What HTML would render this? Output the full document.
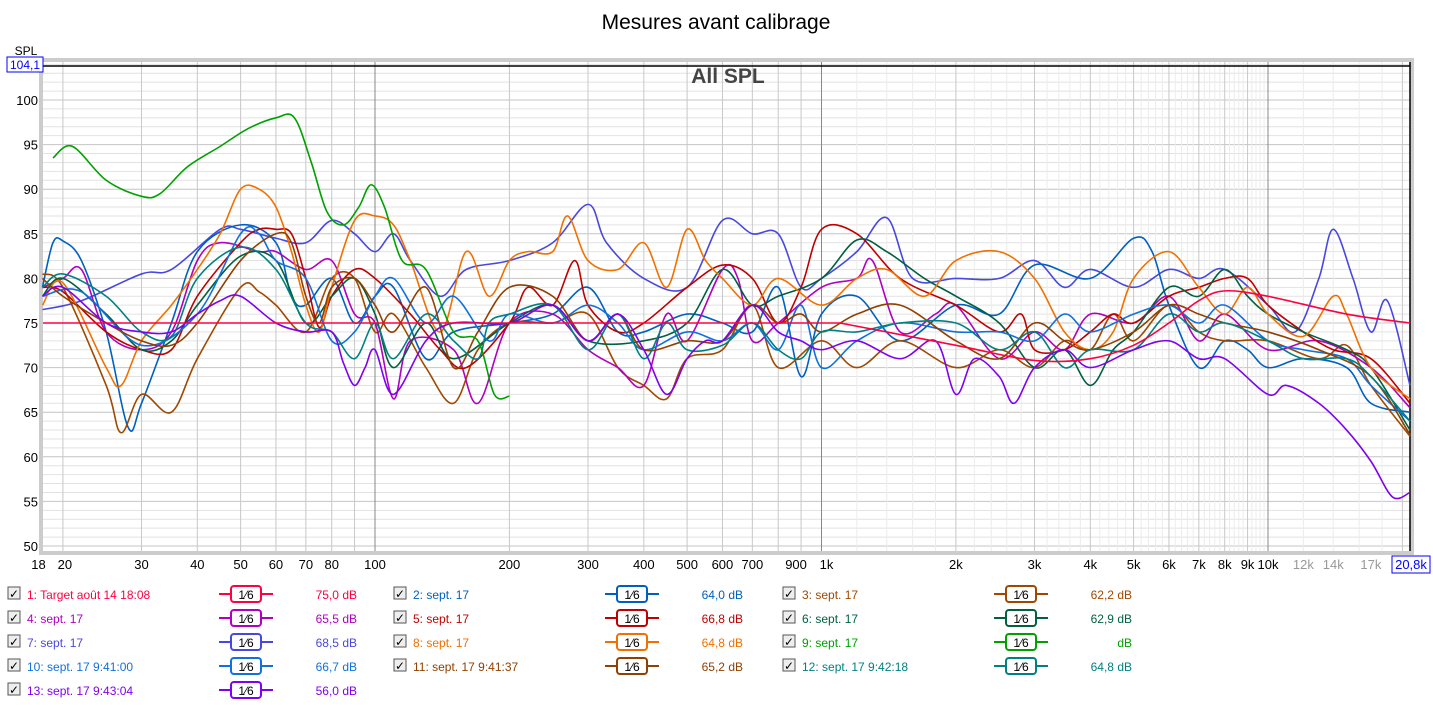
<!DOCTYPE html>
<html><head><meta charset="utf-8"><style>
body{margin:0;width:1433px;height:705px;background:#fff;font-family:"Liberation Sans",sans-serif;overflow:hidden;position:relative}
svg{position:absolute;left:0;top:0}
</style></head><body>
<svg id="s" width="1433" height="705" xmlns="http://www.w3.org/2000/svg" font-family="Liberation Sans, sans-serif"></svg>
<script>
const S=document.getElementById('s');let h='';
const X=f=>375+446.5*Math.log10(f/100), Y=d=>100+(100-d)*8.92;
const L=43,R=1410,T=62,B=551;
h+=`<text x="716" y="29" font-size="21" text-anchor="middle">Mesures avant calibrage</text>`;
h+=`<rect x="${L-4}" y="${T-4}" width="${R-L+8}" height="${B-T+8}" fill="#ccc"/><rect x="${L}" y="${T}" width="${R-L}" height="${B-T}" fill="#fff"/>`;
for(let d=50;d<=104;d++){const y=Y(d);if(y<T||y>B)continue;h+=`<line x1="${L}" x2="${R}" y1="${y}" y2="${y}" stroke="${d%5?'#e2e2e2':'#c4c4c4'}"/>`;}
let fs=[];for(let dec of [10,100,1000,10000])for(let m=1;m<10;m++){const f=dec*m;if(f>=18&&f<=20800)fs.push(f);}
for(let dec of [10,100,1000,10000])for(let m=1;m<10;m+=0.5){}
for(const f of fs){const x=X(f);const maj=[100,1000,10000].includes(f);h+=`<line x1="${x}" x2="${x}" y1="${T}" y2="${B}" stroke="${maj?'#888':'#c8c8c8'}"/>`;}
// minor extra lines
for(let dec of [10,100,1000,10000])for(let m=1;m<10;m++)for(let k=1;k<5;k++){const f=dec*(m+k/5);if(f<18||f>20800)continue;if(dec>=1000&&m>=1)h+=`<line x1="${X(f)}" x2="${X(f)}" y1="${T}" y2="${B}" stroke="#ececec"/>`;}
h+=`<line x1="${L}" x2="${R}" y1="${T+4}" y2="${T+4}" stroke="#000" stroke-width="1.5"/><line x1="${R}" x2="${R}" y1="${T}" y2="${B}" stroke="#000" stroke-width="1.5"/>`;
for(let d=50;d<=100;d+=5)h+=`<text x="38" y="${Y(d)+5}" font-size="13" text-anchor="end">${d}</text>`;
h+=`<text x="26" y="55" font-size="12" text-anchor="middle">SPL</text><rect x="7" y="57" width="36" height="15" fill="#fff" stroke="#00f"/><text x="25" y="69" font-size="12" fill="#00f" text-anchor="middle">104,1</text>`;
const xl=[[18,'18'],[20,'20'],[30,'30'],[40,'40'],[50,'50'],[60,'60'],[70,'70'],[80,'80'],[100,'100'],[200,'200'],[300,'300'],[400,'400'],[500,'500'],[600,'600'],[700,'700'],[900,'900'],[1000,'1k'],[2000,'2k'],[3000,'3k'],[4000,'4k'],[5000,'5k'],[6000,'6k'],[7000,'7k'],[8000,'8k'],[9000,'9k'],[10000,'10k'],[12000,'12k',1],[14000,'14k',1],[17000,'17k',1]];
for(const [f,t,g] of xl){let x=X(f);if(f==18)x-=4;if(f==20)x+=2;if(f==900)x-=5;if(f==1000)x+=5;h+=`<text x="${x}" y="569" font-size="13" text-anchor="middle" fill="${g?'#999':'#000'}">${t}</text>`;}
h+=`<rect x="1392" y="556" width="38" height="17" fill="#fff" stroke="#00f"/><text x="1411" y="569" font-size="13" fill="#00f" text-anchor="middle">20,8k</text>`;
h+=`<text x="728" y="83" font-size="21" font-weight="bold" fill="#444" text-anchor="middle">All SPL</text>`;
function curve(pts,c,w){pts=pts.map(p=>[X(p[0]),Y(p[1])]);let d=`M${pts[0][0]},${pts[0][1]}`;for(let i=0;i<pts.length-1;i++){const p0=pts[Math.max(0,i-1)],p1=pts[i],p2=pts[i+1],p3=pts[Math.min(pts.length-1,i+2)];d+=`C${p1[0]+(p2[0]-p0[0])/6},${p1[1]+(p2[1]-p0[1])/6} ${p2[0]-(p3[0]-p1[0])/6},${p2[1]-(p3[1]-p1[1])/6} ${p2[0]},${p2[1]}`;}h+=`<path d="${d}" fill="none" stroke="${c}" stroke-width="${w||1.6}"/>`;}
const P=s=>s.split(',').map(a=>a.split(':').map(Number));
const ser=[
['#4848e0','18:76.5,22:77.5,30:80.5,35:81,45:85.5,50:85.5,60:84.5,70:84,80:86.5,90:85,100:83,110:85,120:82,140:78,160:81,200:82,250:84,300:88.3,330:84,400:80,500:79,600:86.5,700:85,800:85,900:79,1000:80,1200:83,1400:86.8,1600:80,2000:80,2500:80,3000:82,3500:79,4000:81,5000:79,6000:81,7000:80,8000:81,10000:77,11500:74,13000:80,14000:85.5,15500:80,17000:74,18500:77.5,20800:68'],
['#0060c0','18:79,19:84,20:84.2,22:82,25:74,28:63.3,30:66,35:75,40:83,50:86,60:84,65:78,70:77,80:80,90:75,100:78,110:79,130:71,150:74,200:75,250:76,300:79,350:74,400:74,500:76,600:75,700:74,800:79,900:69,1000:76,1200:78,1500:73,2000:77,2500:76,3000:81.5,4000:80,5000:84.5,5500:83,6000:77,7000:70,8000:73,9000:72,10000:70,12000:71,15000:70,17000:66,20800:65'],
['#a04800','18:80.5,20:79,25:68,27:62.7,30:67,35:65,40:71,50:79,55:78.5,60:77,70:74,80:80,90:80,100:74,110:76,130:70,150:66,170:72,200:75,250:75,300:76,350:70,400:68,450:66.5,500:71,600:72,700:77,800:70,1000:73,1200:70,1500:73,2000:70,2500:72,3000:70,3500:73,4000:72,4500:76,5000:73,6000:77,7000:74,8000:73,10000:73,13000:71,15000:72.5,17000:68,20800:62.3'],
['#b000c0','18:79,20:80,22:81,25:74,30:72,35:74,40:82,45:84,55:83,60:83,70:81,80:82,90:76,100:75,110:66.5,120:73,150:72,170:66,200:75,250:76,300:72,350:70,400:68,450:76,500:73,600:81,650:80,700:73,800:75,1000:79,1200:80,1300:82,1500:74,1800:76,2000:77,2500:71,3000:74,3500:72,4000:76,5000:75,6000:78,7000:73,8000:76,10000:72,13000:73,17000:70,20800:65.5'],
['#c00000','18:79,20:78.5,25:74,30:72,35:72,40:78,50:84,55:85.5,60:85.5,65:85,70:80,75:74.5,80:78,90:81,100:80,120:76,140:72,160:70,200:75,220:79,250:77,280:82,300:77,350:74,400:75,500:79,600:81.5,700:80,800:75,900:79,1000:85.5,1200:85,1500:80,2000:77,2500:74,2800:76,3000:72,3500:72,4000:74,4500:76,5000:75,6000:78,7000:79,8000:80,9000:80,10000:77,12000:74,14000:72,17000:71,20800:66'],
['#006040','18:78,20:80,25:76,30:72,35:73,40:77,50:82.5,60:82,70:75,80:78,90:80,100:76,110:70,130:75,150:71,200:75,250:77,300:73,400:73,500:75,600:81,700:77,800:78,1000:80,1200:84.3,1400:83,1700:80,2000:78,2500:75,3000:70,3500:72,4000:68,4500:72,5000:74,6000:79,7000:78,8000:81,9000:78,10000:76,12000:74,15000:72,17000:70,20800:63'],
['#f07000','18:77,20:79.5,25:70,27:68,30:73,35:77,40:81,45:85,50:90,55:90,60:88,65:83,70:77,75:74,80:79,90:86.5,100:87,110:86,120:82,140:74,160:83,180:78,200:82,220:83,250:83,270:87,300:82,350:81,400:84,450:79,500:85.5,550:82,600:80,700:77,800:80,1000:77,1200:80,1400:81,1700:78,2000:82,2500:83,3000:80,3500:74,4000:72,4500:74,5000:80,6000:83,7000:79,8000:76,9000:79,10000:76,12000:73.5,14000:78,15000:76,17000:70,20800:66.5'],
['#1070e0','18:78,22:78.5,30:72.5,40:76,50:85,55:85,60:82,70:80,80:73,90:74,100:78,110:80,130:75,150:78,180:73,200:76,250:75,300:77,350:75,400:72,500:74,600:73,700:75,800:72,900:77,1000:70,1200:73,1500:75,2000:74,2500:74,3000:73,3500:76,4000:74,5000:76,6000:77,7000:75,8000:77,10000:73,12000:72,15000:71,17000:68,20800:64'],
['#904000','18:80,20:78,25:75,30:73,35:72.5,40:75,50:82,60:85,65:84,70:78,75:75,80:79,90:80,100:77,110:74,130:79,150:70,170:74,200:79,250:78,300:73,350:76,400:72,500:73,600:73,700:77,800:75,900:76,1000:74,1200:76,1500:77,2000:73,2500:71,3000:75,3500:73,4000:72,5000:74,6000:77,7000:76,8000:75,10000:74,13000:72,17000:69,20800:62.5'],
['#008080','18:79,20:80.5,25:78,30:74,35:73.5,40:80,50:83.5,60:81,70:75,80:74,90:71,100:75,110:71,130:76,150:73,170:71,180:75,200:76,250:77,300:72,350:76,400:71,450:75,500:72,600:72.5,700:75,800:72,900:71,1000:74,1200:74,1500:75,2000:75,2500:72,3000:74,3500:70,4000:72,5000:72,6000:76,7000:74,8000:75,10000:73,12000:71,15000:71,17000:69,20800:64'],
['#8000f0','18:78,20:79,25:75,30:74,35:74,40:76,45:77.5,50:78,60:75,70:74,80:74,85:70.5,90:68,95:70,100:72,110:67,130:73,150:75,200:75,250:77,300:73,350:76,400:72,450:67,500:71,550:73,600:73,700:77,800:74,900:73,1000:72,1200:73,1500:71,1800:73,2000:67,2200:71,2500:69,2700:66,3000:70,3500:72,4000:70,5000:72,6000:73,7000:71,8000:71,10000:67,11000:68,13000:66,15000:63,17000:59.5,19000:55.5,20800:56'],
['#00a000','19:93.5,21:94.8,25:91,30:89.2,33:89.5,38:92.5,45:94.8,52:96.8,60:98,66:98,72:93,78:87.5,85:86,92:88,98:90.5,105:88,115:82,130:81,150:74,170:73,185:67,200:66.8']
];
for(const [c,s] of ser)curve(P(s),c);
h+=`<path d="M${L},${Y(75)}L${X(1100)},${Y(75)}" stroke="#ff0040" stroke-width="1.6" fill="none"/>`;
curve(P('1100:75,2000:72.5,3000:70.8,4000:71,5000:72.5,6000:75,7000:77.5,8000:78.6,10000:78,15000:76,20800:75'),'#ff0040');
// legend
const lg=[['1: Target août 14 18:08','75,0 dB','#ff0040'],['2: sept. 17','64,0 dB','#0060c0'],['3: sept. 17','62,2 dB','#a04800'],
['4: sept. 17','65,5 dB','#b000c0'],['5: sept. 17','66,8 dB','#c00000'],['6: sept. 17','62,9 dB','#006040'],
['7: sept. 17','68,5 dB','#4848e0'],['8: sept. 17','64,8 dB','#f07000'],['9: sept. 17','dB','#00a000'],
['10: sept. 17 9:41:00','66,7 dB','#1070e0'],['11: sept. 17 9:41:37','65,2 dB','#904000'],['12: sept. 17 9:42:18','64,8 dB','#008080'],
['13: sept. 17 9:43:04','56,0 dB','#8000f0']];
const cx=[8,394,783];
lg.forEach((e,i)=>{const x=cx[i%3],y=594+24*Math.floor(i/3);
h+=`<rect x="${x}" y="${y-7}" width="12" height="12" fill="#eee" stroke="#555"/><text x="${x+1}" y="${y+4}" font-size="12">✓</text>`;
h+=`<text x="${x+19}" y="${y+5}" font-size="12" fill="${e[2]}">${e[0]}</text>`;
const bx=x+211;h+=`<line x1="${bx}" x2="${bx+54}" y1="${y}" y2="${y}" stroke="${e[2]}" stroke-width="2"/><rect x="${bx+12}" y="${y-8}" width="30" height="16" rx="3" fill="#fff" stroke="${e[2]}" stroke-width="2"/><text x="${bx+27}" y="${y+5}" font-size="12" text-anchor="middle">1⁄6</text>`;
h+=`<text x="${x+349}" y="${y+5}" font-size="12" fill="${e[2]}" text-anchor="end">${e[1]}</text>`;});
S.innerHTML=h;
</script>
</body></html>
